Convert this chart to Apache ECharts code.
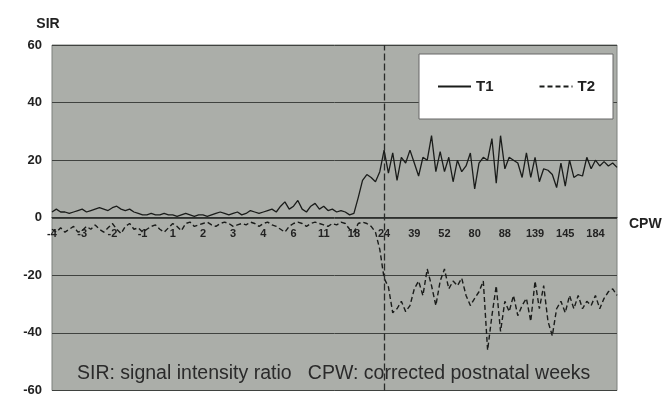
<!DOCTYPE html>
<html>
<head>
<meta charset="utf-8">
<script src="https://cdn.jsdelivr.net/npm/echarts@6/dist/echarts.min.js"></script>
<style>
  html, body { margin: 0; padding: 0; background: #fff; }
  #main { width: 666px; height: 397px; }
</style>
</head>
<body>
<div id="main"></div>
<script>
// week labels, one every 7 samples
var tickLabels = ['-4', '-3', '-2', '-1', '1', '2', '3', '4', '6', '11', '18', '24', '39', '52', '80', '88', '139', '145', '184'];

// T1 signal intensity ratio
var t1 = [
    2, 3, 2, 2, 1.5, 2, 2.5, 3, 2, 2.5, 3, 3.5, 3, 2.5, 3.5, 4, 3, 2.5, 3, 2,
    1.5, 1, 1, 1.5, 1, 1, 1.5, 1, 1, 0.5, 1, 1.5, 1, 0.5, 1, 1, 0.5, 1, 1.5, 2,
    1.5, 1, 1.5, 2, 1, 1.5, 2.5, 2, 1.5, 2, 2.5, 3, 2, 4, 5.5, 3, 4, 6, 3, 2,
    4, 5, 3, 4, 2.5, 3, 2, 2.5, 2, 1, 1.5,
    7, 13, 15, 14, 12.5, 16, 23.5, 15.5, 22.5, 13, 21, 19, 23.5, 19, 14.5, 21, 20, 28.5, 16, 23,
    16, 21, 12.5, 20, 16, 18, 22.5, 10, 19, 21, 20, 27.5, 12, 28.5, 17, 21, 20, 19, 14, 22.5,
    14, 21, 12.5, 17, 16.5, 15, 10.5, 19, 11, 20, 14, 15, 14.5, 21, 17, 20, 18, 19.5, 18, 19,
    17.5
];

// T2 signal intensity ratio
var t2 = [
    -4, -5, -3.5, -5, -4, -3, -5, -4.5, -3, -4, -2.5, -4, -5, -3.5, -2, -4, -5.5, -3, -2, -4,
    -3.5, -5, -4, -3, -2.5, -4, -5, -3.5, -2, -3, -4.5, -2, -1.5, -3, -2.5, -2, -1.5, -2.5, -3, -2,
    -1.5, -2, -3, -2.5, -2, -2.5, -1.5, -2, -3, -2, -1.5, -2.5, -3, -4, -5, -3, -2, -1.5, -2, -3,
    -2, -1.5, -2, -2.5, -3, -2, -2.5, -1.5, -2, -4, -5, -2, -1.5, -2, -3, -5, -11,
    -21, -24, -33, -31.6, -29, -32.6, -30.5, -24.7, -22, -27, -17.8, -23.6, -30.5, -22, -17.8, -24.7, -22, -23.6, -21, -27,
    -30.5, -28, -25.7, -22, -46, -34, -23.6, -39.5, -29, -32.6, -27, -34, -30.5, -28, -36, -22, -31.6, -23.6, -36, -41,
    -31.6, -29, -33, -27, -31.6, -27, -31.6, -29, -30.5, -27, -31.6, -28, -25.7, -24.7, -27
];

var categories = [];
for (var i = 0; i < t1.length; i++) {
    categories.push(String(i));
}

var gridTop = 45, gridBottom = 5, chartH = 397;
// move the category axis up to the zero line
var zeroOffset = -(chartH - gridTop - gridBottom) / 2;

var chart = echarts.init(document.getElementById('main'));
var option = {
    backgroundColor: '#ffffff',
    animation: false,
    grid: {
        left: 52,
        right: 49,
        top: gridTop,
        bottom: gridBottom,
        show: true,
        backgroundColor: '#abaea9',
        borderColor: '#7d807c',
        borderWidth: 1
    },
    legend: {
        left: 419,
        top: 54,
        padding: [25, 18],
        itemGap: 45,
        itemWidth: 33,
        itemHeight: 10,
        backgroundColor: '#ffffff',
        borderColor: '#666',
        borderWidth: 1,
        itemStyle: { color: 'transparent', borderWidth: 0 },
        textStyle: { fontFamily: 'Liberation Sans', fontWeight: 'bold', fontSize: 15, color: '#222' },
        data: ['T1', 'T2']
    },
    xAxis: {
        type: 'category',
        data: categories,
        boundaryGap: false,
        position: 'bottom',
        offset: zeroOffset,
        name: 'CPW',
        nameGap: 12,
        nameTextStyle: { fontFamily: 'Liberation Sans', fontWeight: 'bold', fontSize: 14, color: '#222', verticalAlign: 'top' },
        axisLine: { onZero: false, lineStyle: { color: '#2e302e', width: 1 } },
        axisTick: { show: false },
        axisLabel: {
            interval: 6,
            margin: 11,
            fontFamily: 'Liberation Sans',
            fontWeight: 'bold',
            fontSize: 11,
            color: '#222',
            formatter: function (v, idx) {
                return tickLabels[idx / 7] || '';
            }
        },
        splitLine: { show: false }
    },
    yAxis: {
        type: 'value',
        min: -60,
        max: 60,
        interval: 20,
        name: 'SIR',
        nameGap: 14,
        nameTextStyle: { fontFamily: 'Liberation Sans', fontWeight: 'bold', fontSize: 14, color: '#222', align: 'center', padding: [0, 8, 0, 0] },
        axisLine: { show: false },
        axisTick: { show: false },
        axisLabel: { fontFamily: 'Liberation Sans', fontWeight: 'bold', fontSize: 13, color: '#222', margin: 10 },
        splitLine: { lineStyle: { color: '#3f423f', width: 1 } }
    },
    series: [
        {
            name: 'T1',
            type: 'line',
            data: t1,
            symbol: 'none',
            lineStyle: { color: '#1a1c1a', width: 1.3 },
            itemStyle: { color: '#1a1c1a' },
            markLine: {
                silent: true,
                symbol: 'none',
                label: { show: false },
                lineStyle: { color: '#2a2c2a', width: 1.3, type: [7, 3] },
                data: [{ xAxis: '77' }]
            }
        },
        {
            name: 'T2',
            type: 'line',
            data: t2,
            symbol: 'none',
            lineStyle: { color: '#1a1c1a', width: 1.4, type: [5, 3] },
            itemStyle: { color: '#1a1c1a' }
        }
    ],
    graphic: [
        {
            type: 'text',
            left: 77,
            top: 364,
            style: {
                text: 'SIR: signal intensity ratio   CPW: corrected postnatal weeks',
                font: '19.5px "Liberation Sans"',
                fill: '#2a2a2a'
            }
        }
    ]
};
chart.setOption(option);
</script>
</body>
</html>
